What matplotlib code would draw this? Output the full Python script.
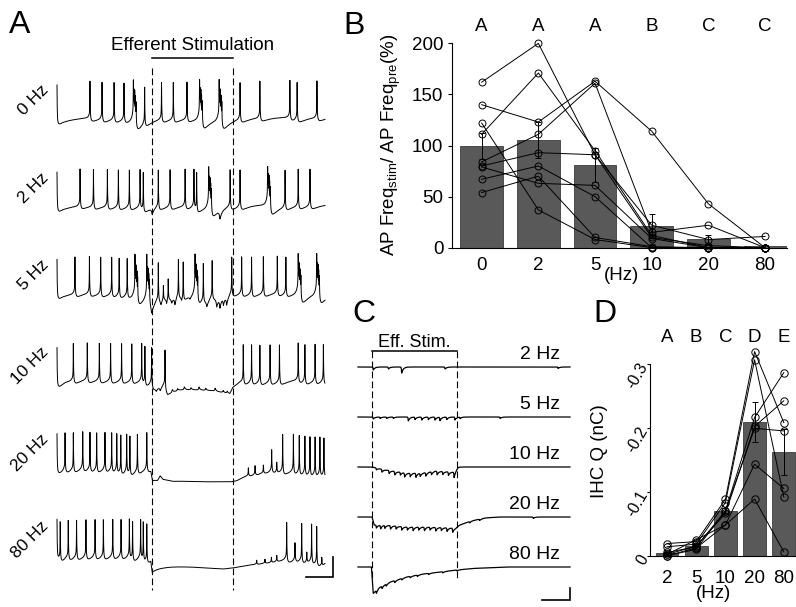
import numpy as np
import matplotlib
matplotlib.use('Agg')
import matplotlib.pyplot as plt

plt.rcParams['font.family'] = ['Liberation Sans', 'DejaVu Sans']
plt.rcParams['mathtext.fontset'] = 'custom'
plt.rcParams['mathtext.rm'] = 'Liberation Sans'
plt.rcParams['mathtext.it'] = 'Liberation Sans:italic'
plt.rcParams['axes.unicode_minus'] = False

# ======================= DATA =======================
# ---- Panel A: current-clamp traces (time in s, voltage in mV rel. to rest)
a_labels = ['0 Hz', '2 Hz', '5 Hz', '10 Hz', '20 Hz', '80 Hz']
a_stim = [3.55, 6.55]
a_duration = 10.0
a_spike_height = 37.0
a_base = [
    [(0, -5), (0.2, -3), (1.0, -1), (10, 0)],
    [(0, -5), (0.2, -3), (1.0, -1), (10, 0)],
    [(0, -5), (0.2, -3), (1.0, -1), (10, 0)],
    [(0, -6), (0.3, -2), (1.0, 0), (3.5, 0), (3.6, -4), (4.0, -4), (4.12, -11), (4.6, -10),
     (5.2, -11), (5.8, -12), (6.45, -15), (6.55, -9), (6.8, -4), (7.3, -1), (10, 0)],
    [(0, -5), (0.3, -2), (1.0, 0), (3.5, 0), (3.56, -10), (3.75, -12), (3.85, -8), (3.95, -12),
     (4.3, -15), (5.5, -16), (6.5, -16), (6.7, -15), (7.0, -11), (7.6, -7), (8.3, -4), (10, -2)],
    [(0, -4), (0.3, -1), (3.5, 0), (3.55, -12), (4.0, -13), (5.0, -14), (6.2, -16), (6.55, -15),
     (7.0, -13), (7.5, -11), (8.0, -9), (8.5, -6), (9.5, -5), (9.9, -7), (10, -6)],
]
a_spikes = [
    [0.0, 1.23, 1.68, 2.13, 2.50, 3.27, 3.90, 4.34, 4.85, 6.83, 7.57, 8.69, 8.96, 9.70],
    [0.0, 0.86, 1.36, 1.88, 2.29, 2.70, 3.10, 3.22, 3.78, 4.22, 4.78, 5.11, 5.21, 6.46, 6.83,
     8.51, 9.00, 9.44],
    [0.0, 0.67, 1.21, 1.63, 2.04, 2.32, 2.62, 3.78, 4.53, 4.71, 5.46, 5.79, 6.52, 6.89, 7.26,
     7.70, 8.22, 8.54],
    [0.0, 0.61, 1.13, 1.58, 2.00, 2.41, 2.79, 3.16, 3.28, 3.53, 4.03, 6.95, 7.26, 7.57, 7.95,
     8.30, 9.00, 9.25, 9.63, 9.94],
    [0.0, 0.30, 0.61, 0.96, 1.23, 1.48, 1.79, 2.04, 2.23, 2.38, 2.60, 2.72, 3.00, 3.35, 8.42,
     8.82, 9.04, 9.25, 9.44, 9.63, 9.81, 9.96],
    [0.0, 0.12, 0.42, 0.73, 1.08, 1.42, 1.73, 2.08, 2.39, 2.70, 2.82, 3.12, 3.22, 3.35, 8.57,
     9.13, 9.50, 9.69],
]
a_bursts = [
    [2.85, 5.32, 6.05],
    [5.66, 7.86],
    [2.91, 3.35, 5.15, 9.00, 9.69],
    [],
    [],
    [],
]
a_short = [   # (time, height) of small spikes / depolarisations
    [],
    [],
    [(3.97, 15), (4.15, 22)],
    [],
    [(7.14, 8), (7.39, 9), (7.70, 8), (8.01, 22), (8.20, 10)],
    [(7.45, 4), (7.76, 4), (8.00, 5), (8.20, 6), (8.88, 18), (9.32, 10), (9.88, 8)],
]
a_dips = [    # (time, depth) of inhibitory potentials
    [],
    [(3.55, 6), (6.08, 8)],
    [(3.53, 8), (3.88, 5), (4.09, 7), (4.28, 5), (4.40, 8), (4.65, 5), (4.96, 3), (5.59, 6),
     (5.96, 9), (6.08, 10), (6.21, 8), (6.33, 9)],
    [(3.70, 3), (3.85, 4)],
    [],
    [],
]
a_bumps = [
    [], [], [],
    [(4.30, 3), (4.50, 2), (4.75, 3), (5.00, 2), (5.30, 3), (5.55, 2), (5.90, 3), (6.20, 2),
     (6.35, 2)],
    [], [],
]
a_scale_t = 1.0    # s
a_scale_v = 20.0   # mV

# ---- Panel B
b_freqs = ['0', '2', '5', '10', '20', '80']
b_means = [99.5, 105.4, 81.0, 21.2, 8.2, 1.2]
b_sem = [12.5, 18.0, 17.0, 11.5, 4.2, 1.2]
b_letters = ['A', 'A', 'A', 'B', 'C', 'C']
b_cells = [
    [162, 200, 91, 10, 2, 0],
    [140, 123, 163, 114, 43, 0],
    [122, 37, 8, 0, 0, 0],
    [111, 171, 95, 12, 0, 0],
    [84, 111, 161, 15, 22, 0],
    [80, 93, 91, 22, 8, 11],
    [79, 63, 61, 9, 0, 0],
    [67, 80, 50, 0, 0, 0],
    [54, 70, 10, 1, 0, 0],
]

# ---- Panel C: voltage-clamp traces (time in s, current in pA)
c_labels = ['2 Hz', '5 Hz', '10 Hz', '20 Hz', '80 Hz']
c_stim = [0.10, 0.70]
c_duration = 1.5
c_slow = [
    [(0, 0), (1.5, 0)],
    [(0, 0), (1.5, 0)],
    [(0, 0), (0.10, 0), (0.20, -25), (0.35, -50), (0.45, -50), (0.55, -33), (0.68, -42),
     (0.71, 0), (1.5, 0)],
    [(0, 0), (0.099, 0), (0.115, -67), (0.20, -67), (0.35, -83), (0.50, -83), (0.69, -92),
     (0.72, -67), (0.80, -33), (0.90, -8), (1.0, 0), (1.5, 0)],
    [(0, 0), (0.095, 0), (0.108, -220), (0.15, -170), (0.226, -125), (0.345, -83), (0.462, -58),
     (0.58, -42), (0.698, -25), (0.816, -12), (1.05, 0), (1.5, 0)],
]
c_events = [  # (time, amplitude) of inward synaptic currents
    [(0.108, 25), (0.215, 17), (0.309, 50), (0.616, 17), (1.415, 12)],
    [(0.108, 17), (0.156, 12), (0.203, 12), (0.25, 12), (0.356, 33), (0.403, 21), (0.451, 25),
     (0.498, 21), (0.545, 25), (0.58, 29), (0.628, 21), (0.686, 25), (0.722, 12), (1.005, 12)],
    [(0.13, 17), (0.17, 25), (0.22, 25), (0.26, 30), (0.30, 25), (0.33, 35), (0.37, 30),
     (0.41, 35), (0.44, 25), (0.48, 30), (0.52, 25), (0.56, 30), (0.60, 25), (0.64, 30),
     (0.68, 45)],
    [(0.13, 25), (0.16, 30), (0.19, 25), (0.23, 30), (0.27, 25), (0.31, 30), (0.35, 25),
     (0.39, 30), (0.43, 25), (0.47, 30), (0.51, 25), (0.55, 30), (0.59, 25), (0.63, 30),
     (0.67, 35), (0.79, 12), (0.86, 12), (1.24, 12)],
    [(0.13, 25), (0.17, 20), (0.20, 17), (0.26, 17), (0.31, 12), (0.37, 12), (0.42, 12),
     (0.50, 10), (0.60, 10), (0.70, 8)],
]
c_scale_t = 0.2    # s
c_scale_i = 100.0  # pA

# ---- Panel D
d_freqs = ['2', '5', '10', '20', '80']
d_means = [-0.004, -0.015, -0.070, -0.209, -0.1615]
d_sem = [0.001, 0.002, 0.004, 0.031, 0.036]
d_letters = ['A', 'B', 'C', 'D', 'E']
d_cells = [
    [-0.019, -0.022, -0.088, -0.319, -0.208],
    [-0.014, -0.018, -0.083, -0.306, -0.092],
    [-0.005, -0.014, -0.070, -0.216, -0.286],
    [-0.002, -0.015, -0.066, -0.202, -0.242],
    [0.000, -0.010, -0.070, -0.199, -0.195],
    [-0.002, -0.025, -0.048, -0.143, -0.105],
    [0.000, -0.012, -0.048, -0.0885, -0.006],
]
d_yticks = [0, -0.1, -0.2, -0.3]
d_yticklabels = ['0', '-0.1', '-0.2', '-0.3']

# ======================= FIGURE =======================
W, H = 796, 607
fig = plt.figure(figsize=(W / 100, H / 100), dpi=100)


def px_axes(left, top, right, bottom):
    return fig.add_axes([left / W, 1 - bottom / H, (right - left) / W, (bottom - top) / H])


FS = 13.5
BAR_C = '#595959'
BAR_E = '#3c3c3c'

# ---------- waveform templates ----------
def spike_wave(d, h):
    w = np.zeros_like(d)
    bh = min(7.0, 0.3 * h)
    pre = (d < 0) & (d > -0.5)
    post = (d >= 0) & (d < 2.0)
    w[pre] = (h - bh) * np.exp(d[pre] / 0.006) + bh * np.exp(d[pre] / 0.05)
    dp = d[post]
    w[post] = ((h - bh) * np.exp(-dp / 0.008) + bh * np.exp(-dp / 0.04)
               - 0.13 * h * (1 - np.exp(-dp / 0.03)) * np.exp(-dp / 0.35))
    return w


def psp_wave(d, amp, rise, decay):
    w = np.zeros_like(d)
    pre = (d < 0) & (d > -20 * rise)
    post = (d >= 0) & (d < 20 * decay)
    w[pre] = amp * np.exp(d[pre] / rise)
    w[post] = amp * np.exp(-d[post] / decay)
    return w


# ---------- Panel A ----------
axA = px_axes(57, 40, 325, 600)
axA.set_xlim(0, a_duration)
axA.set_ylim(-483, 77)
axA.axis('off')
ROW_A = 87.2
burst_offsets = [0.0, 0.025, 0.05, 0.075, 0.10]
burst_scale = [1.0, 0.8, 0.85, 0.78, 0.75]
for r in range(len(a_labels)):
    ev_t = list(a_spikes[r]) + [tb + o for tb in a_bursts[r] for o in burst_offsets] + \
        [s[0] for s in a_short[r]]
    t = np.union1d(np.arange(0, a_duration + 1e-9, 0.003), np.array(ev_t))
    bt, bv = zip(*a_base[r])
    v = np.interp(t, bt, bv)
    for ts in a_spikes[r]:
        v += spike_wave(t - ts, a_spike_height)
    for tb in a_bursts[r]:
        for o, sc in zip(burst_offsets, burst_scale):
            v += spike_wave(t - tb - o, a_spike_height * sc) * (0.75 if o > 0 else 1.0)
    for ts, hh in a_short[r]:
        v += spike_wave(t - ts, hh)
    for td, dd in a_dips[r]:
        v += psp_wave(t - td, -dd, 0.03, 0.08)
    for tb, bb in a_bumps[r]:
        v += psp_wave(t - tb, bb, 0.02, 0.04)
    v = np.minimum(v, np.interp(t, bt, bv) + a_spike_height + 1)
    axA.plot(t, v - ROW_A * r, color='black', lw=0.7, clip_on=False)
    axA.text(-0.4, 29 - ROW_A * r, a_labels[r], rotation=45, rotation_mode='anchor',
             ha='right', va='center', fontsize=12.5, clip_on=False)

for ts in a_stim:
    axA.plot([ts, ts], [49, -473], color='black', lw=0.8, dashes=(6, 3), clip_on=False)
axA.plot(a_stim, [59, 59], color='black', lw=1.1, clip_on=False)
axA.text(sum(a_stim) / 2, 72, 'Efferent Stimulation', ha='center', va='center',
         fontsize=FS, clip_on=False)
# scale bar
sx1, sy0 = 10.3, -460
axA.plot([sx1 - a_scale_t, sx1, sx1], [sy0, sy0, sy0 + a_scale_v], color='black', lw=1.2,
         clip_on=False, solid_joinstyle='miter')

# ---------- Panel B ----------
axB = px_axes(451.7, 30, 786.7, 247.7)
xb = np.arange(len(b_freqs))
axB.bar(xb, b_means, width=0.75, color=BAR_C, edgecolor=BAR_E, linewidth=0.6, zorder=1)
axB.errorbar(xb, b_means, yerr=b_sem, fmt='none', ecolor='black', elinewidth=0.7,
             capsize=2.5, capthick=0.7, zorder=2)
for cell in b_cells:
    axB.plot(xb, cell, color='black', lw=0.7, marker='o', ms=5, mfc='none', mec='black',
             mew=0.7, zorder=3, clip_on=False)
axB.set_xlim(-0.529, 5.382)
axB.set_ylim(0, 213.1)
for s in ['top', 'right']:
    axB.spines[s].set_visible(False)
axB.spines['left'].set_bounds(0, 200)
axB.spines['left'].set_linewidth(0.8)
axB.spines['bottom'].set_linewidth(0.8)
axB.set_yticks([0, 50, 100, 150, 200])
axB.set_xticks(xb)
axB.set_xticklabels(b_freqs)
axB.tick_params(axis='y', length=3, width=0.8, labelsize=FS, pad=3)
axB.tick_params(axis='x', length=0, labelsize=FS, pad=6.5)
axB.set_ylabel(r'AP Freq$_{\rm stim}$/ AP Freq$_{\rm pre}$(%)', fontsize=FS)
axB.yaxis.set_label_coords(-0.145, 0.472)
axB.set_xlabel('(Hz)', fontsize=FS)
axB.xaxis.set_label_coords(0.507, -0.0887)
for xi, let in zip(xb, b_letters):
    axB.text(xi, 216.3, let, ha='center', va='center', fontsize=FS, clip_on=False)

# ---------- Panel C ----------
axC = px_axes(358, 335, 570, 605)
axC.set_xlim(0, c_duration)
PXC = 8.333
axC.set_ylim(-238 * PXC, 32 * PXC)
axC.axis('off')
ROW_C = 50 * PXC
tc = np.arange(0, c_duration + 1e-9, 0.001)
for r in range(len(c_labels)):
    st, sv = zip(*c_slow[r])
    i = np.interp(tc, st, sv)
    for te, ae in c_events[r]:
        i += psp_wave(tc - te, -ae, 0.002, 0.012)
    axC.plot(tc, i - ROW_C * r, color='black', lw=0.9, clip_on=False)
    axC.text(1.43, 100 - ROW_C * r, c_labels[r], ha='right', va='center', fontsize=14,
             clip_on=False)
for ts in c_stim:
    axC.plot([ts, ts], [133, -1775], color='black', lw=0.8, dashes=(6, 3), clip_on=False)
axC.plot(c_stim, [133, 133], color='black', lw=1.1, clip_on=False)
axC.text(sum(c_stim) / 2, 208, 'Eff. Stim.', ha='center', va='center', fontsize=13,
         clip_on=False)
cx1, cy0 = 1.5, -233 * PXC
axC.plot([cx1 - c_scale_t, cx1, cx1], [cy0, cy0, cy0 + c_scale_i], color='black', lw=1.2,
         clip_on=False, solid_joinstyle='miter')

# ---------- Panel D ----------
axD = px_axes(650, 350, 796, 555.7)
xd = np.arange(len(d_freqs))
axD.bar(xd, d_means, width=0.78, color=BAR_C, edgecolor=BAR_E, linewidth=0.6, zorder=1)
axD.errorbar(xd, d_means, yerr=d_sem, fmt='none', ecolor='black', elinewidth=0.7,
             capsize=2.5, capthick=0.7, zorder=2)
for cell in d_cells:
    axD.plot(xd, cell, color='black', lw=0.7, marker='o', ms=5.3, mfc='none', mec='black',
             mew=0.7, zorder=3, clip_on=False)
axD.set_xlim(-0.582, 4.418)
axD.set_ylim(0, -0.3214)
for s in ['top', 'right']:
    axD.spines[s].set_visible(False)
axD.spines['left'].set_bounds(0, -0.3)
axD.spines['left'].set_linewidth(0.8)
axD.spines['bottom'].set_linewidth(0.8)
axD.set_yticks(d_yticks)
axD.set_yticklabels(d_yticklabels)
axD.set_xticks(xd)
axD.set_xticklabels(d_freqs)
axD.tick_params(axis='y', length=2.5, width=0.8, labelsize=11.5, pad=1.5)
axD.tick_params(axis='x', length=0, labelsize=FS, pad=10)
for lab in axD.get_yticklabels():
    lab.set_rotation(60)
    lab.set_rotation_mode('anchor')
    lab.set_ha('right')
    lab.set_va('center')
axD.set_ylabel('IHC Q (nC)', fontsize=FS)
axD.yaxis.set_label_coords(-0.288, 0.507)
axD.set_xlabel('(Hz)', fontsize=FS)
axD.xaxis.set_label_coords(0.438, -0.1424)
for xi, let in zip(xd, d_letters):
    axD.text(xi, -0.3417, let, ha='center', va='center', fontsize=FS, clip_on=False)

# ---------- panel letters ----------
for let, x, y in [('A', 9, 33), ('B', 343, 34), ('C', 352, 322), ('D', 593, 322)]:
    fig.text(x / W, 1 - y / H, let, fontsize=23, ha='left', va='baseline')

fig.savefig('out.png', dpi=100)
